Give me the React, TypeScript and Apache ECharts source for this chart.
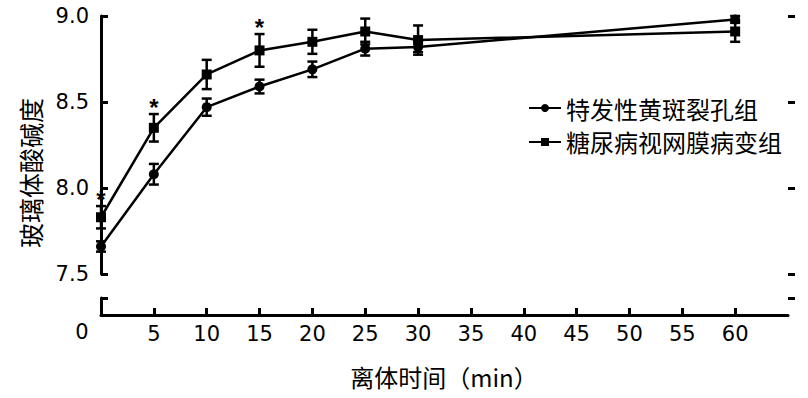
import React, { useEffect, useRef } from "react";
import * as echarts from "echarts";

const times = [0, 5, 10, 15, 20, 25, 30, 60];
const idiopathicMean = [7.66, 8.08, 8.47, 8.59, 8.69, 8.81, 8.82, 8.98];
const idiopathicErr = [0.03, 0.06, 0.05, 0.04, 0.045, 0.04, 0.03, 0.02];
const diabeticMean = [7.83, 8.35, 8.66, 8.8, 8.85, 8.91, 8.86, 8.91];
const diabeticErr = [0.065, 0.08, 0.085, 0.095, 0.07, 0.075, 0.085, 0.06];
const significant = [true, true, false, true, false, false, false, false];
const seriesNames = ["特发性黄斑裂孔组", "糖尿病视网膜病变组"];
const xTickValues = [5, 10, 15, 20, 25, 30, 35, 40, 45, 50, 55, 60];
const xAxisTitle = "离体时间（min）";
const yAxisTitle = "玻璃体酸碱度";
const originLabel = "0";

const NUM_FONT = "DejaVu Sans, sans-serif";
const CJK_FONT = "Noto Sans CJK SC, sans-serif";

function errorSeries(means: number[], errs: number[], stars: boolean[] | null) {
  return {
    type: "custom",
    xAxisIndex: 0,
    yAxisIndex: 0,
    z: 2,
    silent: true,
    data: times.map((t, i) => [t, means[i] - errs[i], means[i] + errs[i], stars && stars[i] ? 1 : 0]),
    encode: { x: 0, y: [1, 2] },
    renderItem: (params: any, api: any) => {
      const x = api.value(0);
      const lo = api.coord([x, api.value(1)]);
      const hi = api.coord([x, api.value(2)]);
      const hw = 5;
      const style = { stroke: "#000", lineWidth: 2.5, fill: null };
      const children: any[] = [
        { type: "line", shape: { x1: lo[0], y1: lo[1], x2: hi[0], y2: hi[1] }, style },
        { type: "line", shape: { x1: lo[0] - hw, y1: lo[1], x2: lo[0] + hw, y2: lo[1] }, style },
        { type: "line", shape: { x1: hi[0] - hw, y1: hi[1], x2: hi[0] + hw, y2: hi[1] }, style },
      ];
      if (api.value(3)) {
        children.push({
          type: "text",
          x: hi[0],
          y: hi[1] + 5,
          style: {
            text: "*",
            fontSize: 24,
            fontWeight: "bold",
            fontFamily: "Liberation Sans, sans-serif",
            fill: "#000",
            align: "center",
            verticalAlign: "bottom",
          },
        });
      }
      return { type: "group", children };
    },
  };
}

export default function App() {
  const ref = useRef<HTMLDivElement>(null);
  useEffect(() => {
    if (!ref.current) return;
    const chart = echarts.init(ref.current, null, { renderer: "svg" });
    const axisLineStyle = { color: "#000", width: 3 };
    const option: any = {
      animation: false,
      backgroundColor: "#fff",
      grid: [
        { left: 101, top: 16, width: 687, height: 258 },
        { left: 101, top: 298, width: 687, height: 17 },
      ],
      xAxis: [
        { type: "value", gridIndex: 0, min: 0, max: 65, show: false },
        {
          type: "value",
          gridIndex: 1,
          min: 0,
          max: 65,
          axisLine: { show: true, onZero: false, lineStyle: axisLineStyle },
          axisTick: { show: true, inside: true, length: 7, lineStyle: axisLineStyle, customValues: xTickValues },
          axisLabel: { customValues: xTickValues, fontSize: 21, fontFamily: NUM_FONT, color: "#000", margin: 8 },
          splitLine: { show: false },
        },
      ],
      yAxis: [
        {
          type: "value",
          gridIndex: 0,
          min: 7.5,
          max: 9.0,
          interval: 0.5,
          axisLine: { show: true, onZero: false, lineStyle: axisLineStyle },
          axisTick: { show: true, inside: true, length: 7, lineStyle: axisLineStyle },
          axisLabel: {
            formatter: (v: number) => v.toFixed(1),
            fontSize: 21,
            fontFamily: NUM_FONT,
            color: "#000",
            margin: 12,
          },
          splitLine: { show: false },
        },
        {
          type: "value",
          gridIndex: 1,
          min: 0,
          max: 1,
          axisLine: { show: true, onZero: false, lineStyle: axisLineStyle },
          axisTick: { show: true, inside: true, length: 7, lineStyle: axisLineStyle, customValues: [1] },
          axisLabel: { show: false },
          splitLine: { show: false },
        },
        {
          type: "value",
          gridIndex: 0,
          min: 7.5,
          max: 9.0,
          interval: 0.5,
          axisLine: { show: false, onZero: false },
          axisTick: { show: true, inside: false, length: 7, lineStyle: axisLineStyle },
          axisLabel: { show: false },
          splitLine: { show: false },
        },
        {
          type: "value",
          gridIndex: 1,
          min: 0,
          max: 1,
          axisLine: { show: false, onZero: false },
          axisTick: { show: true, inside: false, length: 7, lineStyle: axisLineStyle, customValues: [1] },
          axisLabel: { show: false },
          splitLine: { show: false },
        },
      ],
      legend: {
        orient: "vertical",
        left: 523,
        top: 91,
        itemWidth: 32,
        itemHeight: 10,
        itemGap: 10,
        textStyle: { fontSize: 24, fontFamily: CJK_FONT, color: "#000" },
        data: seriesNames,
      },
      graphic: [
        {
          type: "text",
          x: 82,
          y: 332,
          style: { text: originLabel, fontSize: 21, fontFamily: NUM_FONT, fill: "#000", align: "center", verticalAlign: "middle" },
        },
        {
          type: "text",
          x: 444,
          y: 376,
          style: { text: xAxisTitle, fontSize: 24, fontFamily: CJK_FONT, fill: "#000", align: "center", verticalAlign: "middle" },
        },
        {
          type: "text",
          x: 30,
          y: 173,
          rotation: Math.PI / 2,
          style: { text: yAxisTitle, fontSize: 25, fontFamily: CJK_FONT, fill: "#000", align: "center", verticalAlign: "middle" },
        },
      ],
      series: [
        {
          name: seriesNames[0],
          type: "line",
          xAxisIndex: 0,
          yAxisIndex: 0,
          data: times.map((t, i) => [t, idiopathicMean[i]]),
          symbol: "circle",
          symbolSize: 10,
          lineStyle: { color: "#000", width: 2.5 },
          itemStyle: { color: "#000" },
          z: 3,
        },
        {
          name: seriesNames[1],
          type: "line",
          xAxisIndex: 0,
          yAxisIndex: 0,
          data: times.map((t, i) => [t, diabeticMean[i]]),
          symbol: "rect",
          symbolSize: 10,
          lineStyle: { color: "#000", width: 2.5 },
          itemStyle: { color: "#000" },
          z: 3,
        },
        errorSeries(idiopathicMean, idiopathicErr, null),
        errorSeries(diabeticMean, diabeticErr, significant),
      ],
    };
    chart.setOption(option);
    return () => chart.dispose();
  }, []);
  return <div ref={ref} style={{ position: "fixed", left: 0, top: 0, width: 808, height: 398 }} />;
}
